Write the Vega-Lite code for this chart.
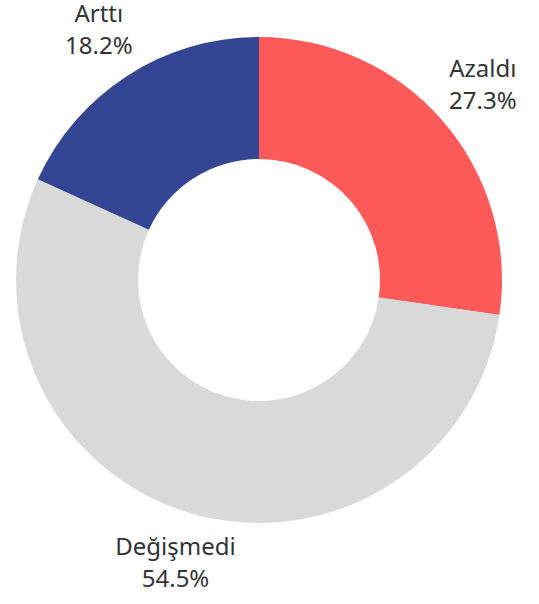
{
  "$schema": "https://vega.github.io/schema/vega-lite/v6.json",
  "width": 518,
  "height": 560,
  "padding": {"left": 0, "top": 0, "right": 21, "bottom": 44},
  "autosize": {"type": "none"},
  "background": "white",
  "data": {
    "values": [
      {"category": "Azaldı", "value": 27.3, "pct": "27.3%", "order": 1},
      {"category": "Değişmedi", "value": 54.5, "pct": "54.5%", "order": 2},
      {"category": "Arttı", "value": 18.2, "pct": "18.2%", "order": 3}
    ]
  },
  "encoding": {
    "theta": {"field": "value", "type": "quantitative", "stack": true},
    "order": {"field": "order", "type": "quantitative"}
  },
  "layer": [
    {
      "mark": {"type": "arc", "outerRadius": 243, "innerRadius": 121},
      "encoding": {
        "color": {
          "field": "category",
          "type": "nominal",
          "scale": {"domain": ["Azaldı", "Değişmedi", "Arttı"], "range": ["#FF5A5A", "#D9D9D9", "#334593"]},
          "legend": null
        }
      }
    },
    {
      "mark": {"type": "text", "radius": 296, "dy": -16, "fontSize": 24, "font": "Noto Sans", "color": "#333333"},
      "encoding": {"text": {"field": "category"}}
    },
    {
      "mark": {"type": "text", "radius": 296, "dy": 16, "fontSize": 24, "font": "Noto Sans", "color": "#333333"},
      "encoding": {"text": {"field": "pct"}}
    }
  ]
}
